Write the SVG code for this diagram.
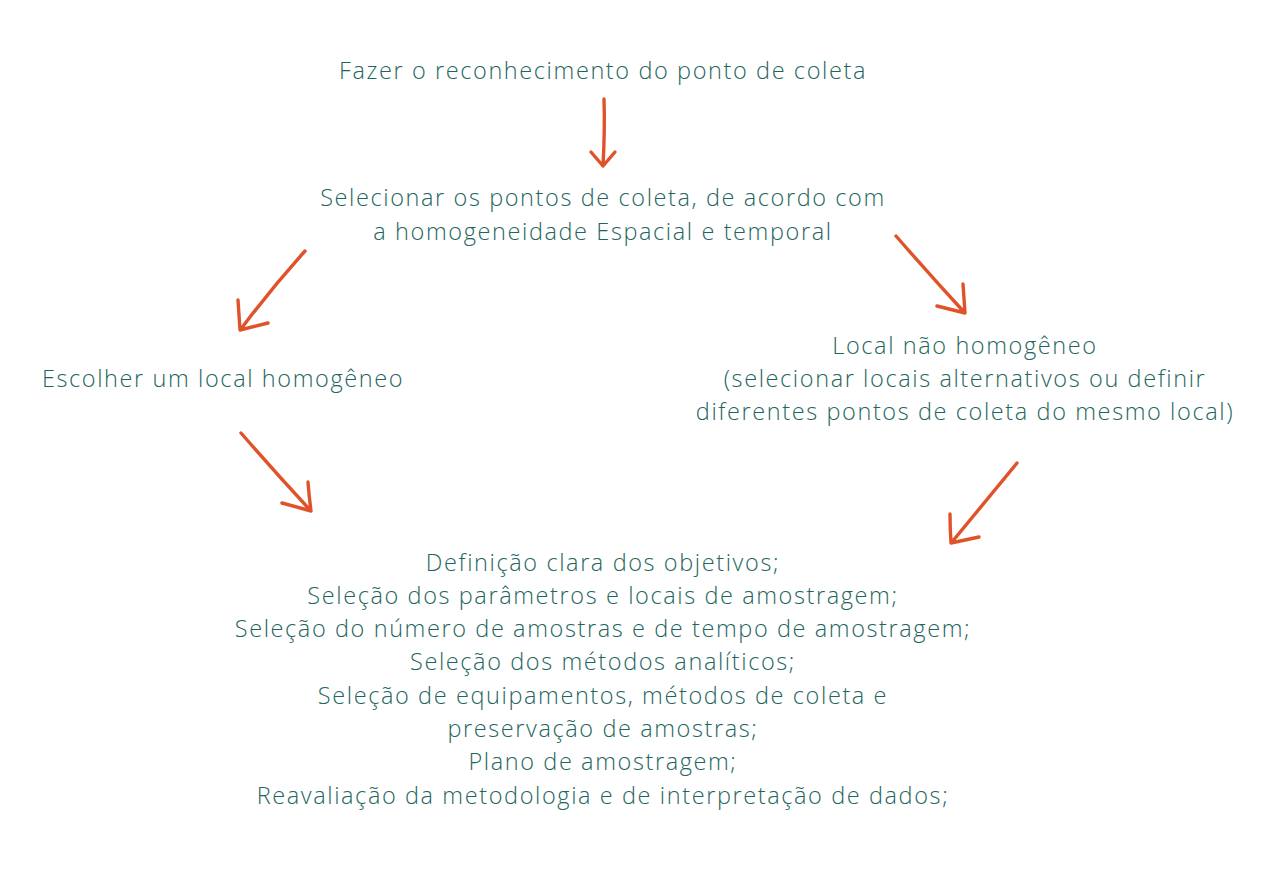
<svg xmlns="http://www.w3.org/2000/svg" width="1279" height="874" viewBox="0 0 1279 874">
<style>
text{font-family:"Open Sans",Lato,"Liberation Sans",sans-serif;font-weight:300;font-size:23.5px;letter-spacing:1.6px;fill:#1f6660;text-anchor:middle}
.arr{fill:none;stroke:#e0532a;stroke-width:3.4;stroke-linecap:round;stroke-linejoin:round}
</style>
<rect width="1279" height="874" fill="#fff"/>
<g id="n1"><text x="603" y="79">Fazer o reconhecimento do ponto de coleta</text></g>
<g id="n2"><text x="603" y="206">Selecionar os pontos de coleta, de acordo com</text><text x="603" y="240">a homogeneidade Espacial e temporal</text></g>
<g id="n3"><text x="223" y="387">Escolher um local homogêneo</text></g>
<g id="n4"><text x="965" y="354">Local não homogêneo</text><text x="965" y="387">(selecionar locais alternativos ou definir</text><text x="965" y="420">diferentes pontos de coleta do mesmo local)</text></g>
<g id="n5">
<text x="603" y="571">Definição clara dos objetivos;</text>
<text x="603" y="604">Seleção dos parâmetros e locais de amostragem;</text>
<text x="603" y="637">Seleção do número de amostras e de tempo de amostragem;</text>
<text x="603" y="670">Seleção dos métodos analíticos;</text>
<text x="603" y="704">Seleção de equipamentos, métodos de coleta e</text>
<text x="603" y="737">preservação de amostras;</text>
<text x="603" y="770">Plano de amostragem;</text>
<text x="603" y="804">Reavaliação da metodologia e de interpretação de dados;</text>
</g>
<g id="connectors">
<path class="arr" d="M604 99 Q605 130 603 166 M591 152 L603 166 L615 152"/>
<path class="arr" d="M305 251 Q270 290 241 329 M238 300 Q239 315 240 330 L268 323"/>
<path class="arr" d="M896 236 Q930 275 964 312 M963 284 Q964 298 965 313 L937 306"/>
<path class="arr" d="M241 433 Q275 472 310 510 M308 482 Q309 496 311 511 L282 503"/>
<path class="arr" d="M1017 463 Q985 502 952 542 M950 514 Q950 528 951 543 L979 537"/>
</g>
</svg>
